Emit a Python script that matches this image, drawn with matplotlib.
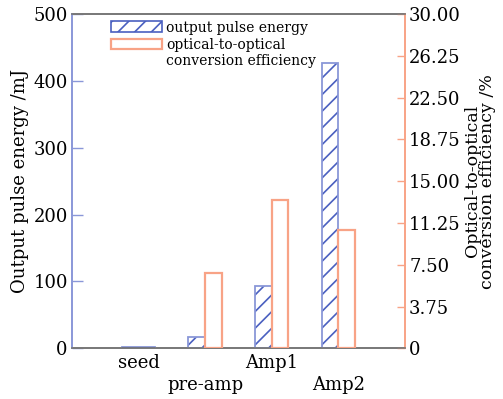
import matplotlib.pyplot as plt
import numpy as np
from matplotlib.patches import Patch

plt.rcParams['font.family'] = ['DejaVu Serif']
plt.rcParams['hatch.linewidth'] = 1.2

stages = ["seed", "pre-amp", "Amp1", "Amp2"]
energy = [1.5, 16.5, 93.5, 426.5]          # mJ
efficiency = [0.0, 6.8, 13.35, 10.6]        # %
energy_width = [0.5, 0.25, 0.25, 0.25]
energy_offset = [0.0, -0.125, -0.125, -0.125]

BLUE_EDGE = "#8a97d8"
BLUE_HATCH = "#4a60c0"
ORANGE = "#f8a386"
GRAY = "#777777"

fig = plt.figure(figsize=(5.03, 3.99), dpi=100)
ax = fig.add_axes([0.143, 0.127, 0.662, 0.838])
ax2 = ax.twinx()

x = np.arange(len(stages))
xe = x + np.array(energy_offset)

# hatched energy bars: hatch in darker blue, outline in light blue
ax.bar(xe, energy, width=energy_width, facecolor="white", edgecolor=BLUE_HATCH,
       hatch="//", linewidth=0, zorder=2)
ax.bar(xe, energy, width=energy_width, fill=False, edgecolor=BLUE_EDGE,
       linewidth=1.3, zorder=3)
# seed pulse is only a thin line
ax.bar(xe[0], energy[0], width=energy_width[0], color=BLUE_HATCH, linewidth=0, zorder=3)

ax2.bar(x[1:] + 0.125, efficiency[1:], width=0.25, fill=False, edgecolor=ORANGE,
        linewidth=1.6, zorder=3)

ax.set_xlim(-1, 4)
ax.set_ylim(0, 500)
ax2.set_ylim(0, 30)
ax.set_yticks([0, 100, 200, 300, 400, 500])
ax2.set_yticks(np.arange(0, 30.01, 3.75))
ax2.set_yticklabels(["0", "3.75", "7.50", "11.25", "15.00", "18.75",
                     "22.50", "26.25", "30.00"])

ax.set_xticks(x)
ax.set_xticklabels(stages)
for i, lab in enumerate(ax.get_xticklabels()):
    if i % 2 == 1:
        lab.set_y(-0.066)
ax.tick_params(axis='x', length=0, labelsize=13, pad=4)

ax.tick_params(axis='y', direction='in', length=8, width=1, color=BLUE_EDGE,
               labelsize=13, pad=3)
ax2.tick_params(axis='y', direction='in', length=6, width=1, color=ORANGE,
                labelsize=13, pad=3)

ax.set_ylabel("Output pulse energy /mJ", fontsize=13, labelpad=3)
ax2.set_ylabel("Optical-to-optical\nconversion efficiency /%", fontsize=12.5,
               labelpad=2, linespacing=0.85)

for a in (ax, ax2):
    a.spines['top'].set_color(GRAY)
    a.spines['bottom'].set_color(GRAY)
    a.spines['left'].set_color(BLUE_EDGE)
    a.spines['right'].set_color(ORANGE)
    for s in a.spines.values():
        s.set_linewidth(1.2)

handles = [Patch(facecolor="white", edgecolor=BLUE_HATCH, hatch="//", linewidth=1.2),
           Patch(facecolor="white", edgecolor=ORANGE, linewidth=1.6)]
labels = ["output pulse energy", "optical-to-optical"]
leg = ax2.legend(handles, labels, loc='upper left', bbox_to_anchor=(0.1, 0.997),
                 frameon=False, fontsize=10, handlelength=3.7, handleheight=0.8,
                 handletextpad=0.3, labelspacing=0.25, borderaxespad=0)

# second line of the efficiency label, just under its first line
fig.canvas.draw()
bb = leg.get_texts()[1].get_window_extent()
x0, y0 = fig.transFigure.inverted().transform((bb.x0, bb.y0))
fig.text(x0, y0 - 0.004, "conversion efficiency", fontsize=10, va='top', ha='left')

fig.savefig("out.png", dpi=100)
